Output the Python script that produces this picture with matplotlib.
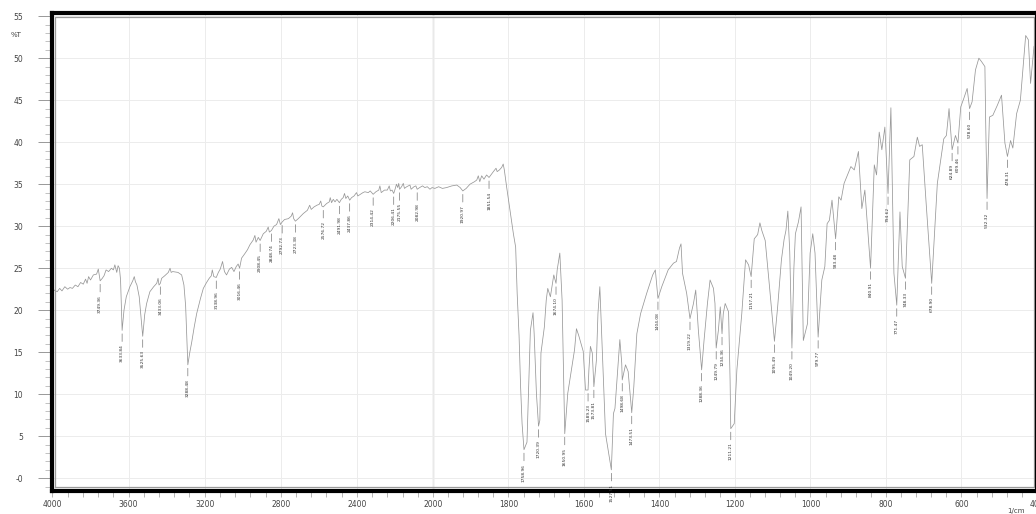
import matplotlib.pyplot as plt
import numpy as np
from matplotlib.ticker import FixedLocator, FixedFormatter

# IR spectrum, %T vs wavenumber (1/cm)
wavenumber = [
    4000, 3990, 3975, 3962, 3950, 3935, 3920, 3908, 3895, 3880, 3866, 3852, 3838, 3826, 3818, 3810,
    3800, 3785, 3768, 3759, 3749.36, 3738, 3729, 3718, 3705, 3690, 3680, 3672, 3662, 3655, 3648, 3642,
    3633.84, 3624, 3612, 3593, 3578, 3570, 3564, 3556, 3544, 3525.63, 3515, 3505, 3488, 3468, 3452, 3445,
    3440, 3433.06, 3426, 3410, 3391, 3382, 3376, 3368, 3340, 3321, 3309, 3300, 3295, 3288.48, 3278, 3268,
    3255, 3242, 3222, 3207, 3190, 3176, 3165, 3160, 3152, 3138.96, 3128, 3118, 3106, 3096, 3085, 3070,
    3058, 3046, 3034, 3024, 3016.46, 3006, 2990, 2975, 2962, 2945, 2936, 2930, 2918, 2908.45, 2892, 2876,
    2866, 2860, 2848.74, 2836, 2822, 2810, 2802, 2792.73, 2780, 2760, 2745, 2738, 2732, 2723.38, 2708, 2695,
    2682, 2660, 2648, 2640, 2625, 2610, 2598, 2590, 2584, 2576.72, 2559, 2545, 2540, 2533, 2524, 2515,
    2505, 2491.98, 2482, 2472, 2465, 2458, 2448, 2437.86, 2428, 2415, 2402, 2395, 2381, 2368, 2358, 2340,
    2330, 2314.42, 2300, 2285, 2279, 2272, 2255, 2240, 2230, 2224, 2215, 2206.41, 2198, 2192, 2185, 2180,
    2175.55, 2165, 2156, 2150, 2138, 2121, 2115, 2100, 2090, 2082.98, 2070, 2055, 2043, 2030, 2016, 2005,
    1995, 1985, 1975, 1964, 1950, 1937, 1928, 1920.97, 1912, 1902, 1890, 1884, 1880, 1876, 1871, 1865,
    1858, 1851.54, 1840, 1833, 1830, 1824, 1818, 1814, 1811, 1805, 1796, 1787, 1781, 1777, 1772, 1768,
    1764, 1758.96, 1751, 1747, 1742, 1735, 1732, 1726, 1720.39, 1717, 1714, 1705, 1700, 1696, 1689, 1680,
    1674.10, 1671, 1664, 1658, 1650.95, 1643, 1632, 1625, 1620, 1614, 1602, 1596, 1589.23, 1587, 1583, 1578,
    1573.81, 1567, 1563, 1558, 1552, 1543, 1527.51, 1522, 1518, 1505, 1500, 1498.68, 1490, 1483, 1473.51, 1468,
    1460, 1450, 1434, 1418, 1411, 1404.08, 1394, 1377, 1363, 1355, 1347, 1343, 1339, 1328, 1319.22, 1310,
    1304, 1297, 1288.36, 1282, 1273, 1266, 1257, 1253, 1249.79, 1244, 1239, 1234.36, 1231, 1226, 1217, 1213,
    1211.21, 1202, 1195, 1182, 1172, 1164, 1157.21, 1149, 1140, 1134, 1129, 1120, 1110, 1095.49, 1087, 1077,
    1070, 1065, 1060, 1055, 1049.20, 1044, 1040, 1032, 1025, 1019, 1008, 1001, 994, 988, 979.77, 970,
    962, 956, 950, 943, 933.48, 925, 919, 911, 893, 884, 873, 864, 856, 840.91, 831, 825,
    818, 811, 803, 794.62, 787, 779, 771.47, 763, 757, 748.33, 737, 726, 717, 711, 704, 693,
    678.90, 664, 647, 640, 633, 624.89, 616, 609.46, 602, 594, 585, 578.60, 572, 563, 554, 547,
    538, 536, 532.32, 526, 517, 505, 494, 485, 478.31, 470, 464, 454, 444, 430, 423, 417,
    408, 400,
]
transmittance = [
    22.2, 22.4, 22.2, 22.6, 22.3, 22.8, 22.5, 22.7, 22.6, 23.0, 22.8, 23.3, 23.1, 23.7, 23.2, 24.0,
    23.6, 24.2, 24.3, 24.9, 23.5, 23.8, 24.1, 24.8, 24.6, 25.0, 24.8, 25.4, 24.5, 25.3, 25.0, 23.6,
    17.6, 20.0, 21.6, 22.8, 23.5, 24.0, 23.4, 23.0, 21.6, 16.9, 19.5, 20.8, 22.2, 22.8, 23.2, 23.8,
    23.0, 23.2, 23.8, 24.1, 24.5, 25.0, 24.5, 24.6, 24.5, 24.2, 23.0, 20.5, 17.6, 13.5, 15.0, 16.2,
    18.0, 19.6, 21.4, 22.6, 23.3, 23.8, 24.1, 24.8, 24.0, 23.9, 24.5, 24.9, 25.8, 24.6, 24.2, 24.9,
    25.1, 24.6, 25.2, 25.5, 25.0, 26.2, 26.7, 27.2, 27.8, 28.35, 28.9, 28.1, 28.67, 28.3, 29.1, 29.4,
    29.9, 29.3, 29.5, 30.0, 30.2, 30.9, 30.2, 30.5, 30.8, 30.9, 31.2, 31.6, 30.9, 30.6, 30.9, 31.2,
    31.5, 31.9, 32.5, 32.0, 32.3, 32.5, 32.6, 33.0, 32.4, 32.3, 32.7, 32.9, 33.4, 32.8, 33.2, 32.9,
    33.2, 32.8, 33.2, 33.4, 33.9, 33.3, 33.6, 33.1, 33.4, 33.6, 34.0, 33.6, 33.8, 34.0, 34.1, 34.0,
    34.2, 33.8, 34.1, 34.3, 34.8, 34.0, 34.3, 34.3, 34.8, 34.2, 34.3, 33.9, 34.5, 35.0, 34.6, 35.1,
    34.4, 34.7, 35.1, 34.5, 34.7, 34.9, 34.4, 34.7, 34.8, 34.4, 34.6, 34.8, 34.6, 34.7, 34.4, 34.6,
    34.5, 34.7, 34.5, 34.6, 34.8, 34.9, 34.6, 34.2, 34.5, 35.0, 35.3, 35.5, 36.0, 35.3, 36.0, 35.6,
    36.1, 35.8, 36.5, 36.9, 36.5, 36.7, 37.0, 37.4, 36.7, 34.7, 31.9, 29.1, 27.5, 22.0, 17.0, 11.0,
    6.5, 3.4, 4.3, 10.1, 17.6, 19.7, 17.2, 10.1, 6.2, 6.9, 14.9, 18.0, 21.2, 22.6, 21.6, 24.2,
    23.2, 24.8, 26.8, 21.2, 5.3, 10.1, 13.3, 15.3, 17.8, 17.0, 15.1, 10.5, 10.5, 12.9, 15.7, 14.9,
    10.9, 14.1, 19.6, 22.8, 15.7, 5.3, 1.0, 7.7, 8.3, 16.5, 13.7, 11.7, 13.5, 12.7, 7.8, 10.9,
    17.2, 19.6, 22.0, 24.2, 24.8, 21.4, 22.8, 24.8, 25.6, 25.8, 27.4, 27.9, 24.4, 22.0, 19.0, 20.8,
    22.4, 17.6, 12.9, 16.4, 20.8, 23.6, 22.6, 20.8, 15.5, 17.6, 20.4, 17.2, 19.6, 20.8, 19.8, 11.7,
    5.9, 6.5, 12.9, 19.6, 26.0, 25.4, 24.0, 28.5, 29.0, 30.4, 29.5, 28.3, 23.5, 16.3, 20.4, 26.0,
    28.4, 29.5, 31.8, 27.0, 15.5, 25.0, 29.1, 30.5, 32.3, 16.4, 18.4, 26.8, 29.1, 26.8, 16.8, 23.6,
    25.2, 30.3, 30.7, 33.1, 28.5, 33.5, 33.1, 35.1, 37.1, 36.7, 38.9, 32.1, 34.3, 25.0, 37.3, 36.1,
    41.2, 39.1, 41.8, 33.9, 44.1, 24.4, 20.6, 31.7, 25.2, 23.8, 37.9, 38.3, 40.6, 39.5, 39.7, 32.3,
    23.2, 35.1, 40.4, 40.8, 44.0, 39.1, 40.8, 39.9, 44.2, 45.2, 46.4, 44.0, 44.8, 48.6, 50.0, 49.6,
    49.0, 42.6, 33.3, 43.0, 43.2, 44.4, 45.6, 39.9, 38.3, 40.2, 39.3, 43.4, 45.0, 52.7, 52.2, 47.0,
    51.4, 51.8,
]

# picked peaks
peak_wn = [
    3749.36, 3633.84, 3525.63, 3433.06, 3288.48, 3138.96, 3016.46, 2908.45, 2848.74, 2792.73,
    2723.38, 2576.72, 2491.98, 2437.86, 2314.42, 2206.41, 2175.55, 2082.98, 1920.97, 1851.54,
    1758.96, 1720.39, 1674.10, 1650.95, 1589.23, 1573.81, 1527.51, 1498.68, 1473.51, 1404.08,
    1319.22, 1288.36, 1249.79, 1234.36, 1211.21, 1157.21, 1095.49, 1049.20, 979.77, 933.48,
    840.91, 794.62, 771.47, 748.33, 678.90, 624.89, 609.46, 578.60, 532.32, 478.31,
]
peak_labels = ['%.2f' % w for w in peak_wn]

x_major = [4000, 3600, 3200, 2800, 2400, 2000, 1800, 1600, 1400, 1200, 1000, 800, 600, 400]
y_major = [0, 5, 10, 15, 20, 25, 30, 35, 40, 45, 50, 55]
y_labels = ['-0', '5', '10', '15', '20', '25', '30', '35', '40', '45', '50', '55']

# the region above 2000 1/cm is drawn at half scale
R = 0.504


def fwd(w):
    w = np.asarray(w, dtype=float)
    return np.where(w > 2000, 2000 + (w - 2000) * R, w)


def inv(u):
    u = np.asarray(u, dtype=float)
    return np.where(u > 2000, 2000 + (u - 2000) / R, u)


W, H = 1036, 514
fig = plt.figure(figsize=(W / 100, H / 100), dpi=100, facecolor='white')
ax = fig.add_axes([51.5 / W, (H - 490.5) / H, (1037 - 51.5) / W, (490.5 - 13) / H])

ax.set_xscale('function', functions=(fwd, inv))
ax.set_xlim(4005, 400)
ax.set_ylim(-1.46, 55.38)

minor_x = list(np.arange(4000, 2000, -80)) + list(np.arange(2000, 399, -40))
ax.xaxis.set_major_locator(FixedLocator(x_major))
ax.xaxis.set_minor_locator(FixedLocator(minor_x))
ax.xaxis.set_major_formatter(FixedFormatter([str(v) for v in x_major]))
ax.xaxis.set_minor_formatter(FixedFormatter([]))
ax.yaxis.set_major_locator(FixedLocator(y_major))
ax.yaxis.set_major_formatter(FixedFormatter(y_labels))
ax.yaxis.set_minor_locator(FixedLocator(np.arange(-1, 56, 1)))

ax.tick_params(axis='y', which='major', length=10.4, width=0.6, color='#888',
               pad=10, labelsize=5.5, labelcolor='#444')
ax.tick_params(axis='y', which='minor', length=4.7, width=0.5, color='#aaa')
ax.tick_params(axis='x', which='both', length=4.5, width=0.5, color='#999',
               pad=2.5, labelsize=5.5, labelcolor='#444')

ax.grid(which='major', color='#ececec', lw=0.7, zorder=0)
ax.axvline(2000, color='#a8a8a8', lw=0.9, zorder=1)

for s in ax.spines.values():
    s.set_linewidth(3)
    s.set_color('black')
    s.set_zorder(5)

# inner grey frame line
ix, iy = 3.5 / 985.5, 3.5 / 477.5
ax.plot([ix, 1 - ix, 1 - ix, ix, ix], [iy, iy, 1 - iy, 1 - iy, iy],
        transform=ax.transAxes, color='#9a9a9a', lw=0.9, clip_on=False, zorder=4)

ax.plot(wavenumber, transmittance, color='#979797', lw=0.55, zorder=3)

wn_asc = np.array(wavenumber)[::-1]
t_asc = np.array(transmittance)[::-1]
for w, lab in zip(peak_wn, peak_labels):
    t = np.interp(w, wn_asc, t_asc)
    ax.annotate(lab, xy=(w, t), xytext=(0, -10), textcoords='offset points',
                rotation=90, ha='center', va='top', fontsize=3.2, color='#333',
                arrowprops=dict(arrowstyle='-', color='#777', lw=0.5,
                                shrinkA=0, shrinkB=2.5),
                zorder=6)

fig.text(16 / W, 1 - 35 / H, '%T', fontsize=5, color='#444', ha='center', va='center')
fig.text(1007 / W, 0.5 / H, '1/cm', fontsize=5, color='#444', ha='left', va='bottom')

fig.savefig('out.png', dpi=100, facecolor='white')
